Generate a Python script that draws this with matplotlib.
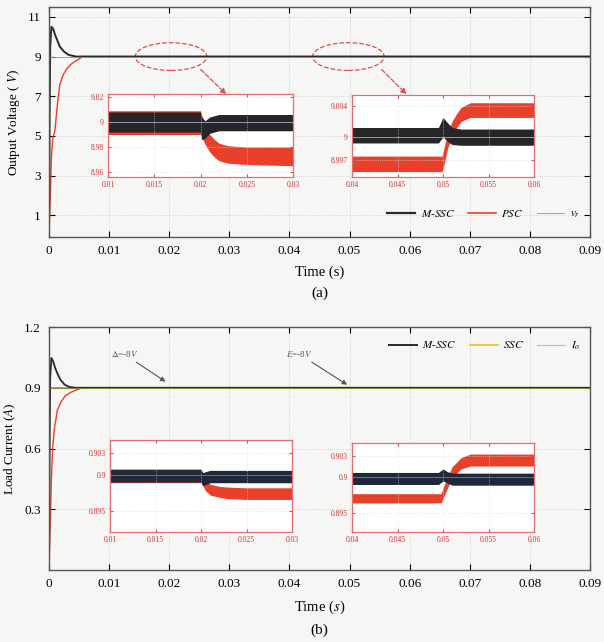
import numpy as np
import matplotlib
matplotlib.use("Agg")
import matplotlib.pyplot as plt
from matplotlib.patches import Ellipse

plt.rcParams['font.family'] = ['Liberation Serif', 'DejaVu Serif']
plt.rcParams['mathtext.fontset'] = 'stix'

W, H = 604, 642
BG = '#f6f7f5'
RED = '#e8402a'
BLK = '#2a2a2a'

# ---- main curves, output voltage (a)
t_v_black = [0, 0.0001, 0.0002, 0.0004, 0.0007, 0.001, 0.0014, 0.0018, 0.0025, 0.0033, 0.0045, 0.09]
v_black = [0, 6.0, 9.5, 10.5, 10.4, 10.1, 9.8, 9.5, 9.25, 9.08, 9.0, 9.0]
t_v_red = [0, 0.0002, 0.0004, 0.0006, 0.001, 0.0014, 0.0018, 0.0024, 0.003, 0.0038, 0.0046, 0.0056, 0.09]
v_red = [0, 1.8, 3.9, 4.8, 5.3, 6.6, 7.6, 8.1, 8.4, 8.65, 8.8, 9.0, 9.0]
t_vref = [0, 0.09]
v_ref = [9.0, 9.0]

# ---- main curves, load current (b)
t_i_black = [0, 0.0001, 0.0002, 0.0004, 0.0007, 0.001, 0.0014, 0.0019, 0.0026, 0.0035, 0.0045, 0.09]
i_black = [0, 0.6, 0.95, 1.047, 1.03, 1.0, 0.97, 0.94, 0.915, 0.903, 0.9, 0.9]
t_i_red = [0, 0.0002, 0.0004, 0.0006, 0.0009, 0.0014, 0.0020, 0.0027, 0.0036, 0.0046, 0.0056, 0.09]
i_red = [0, 0.22, 0.45, 0.6, 0.7, 0.79, 0.83, 0.86, 0.877, 0.89, 0.9, 0.9]
t_iref = [0, 0.09]
i_ref = [0.9, 0.9]

# ---- inset bands (upper / lower envelopes of ripple)
# voltage, 0.01-0.03
va_t_blk = [0.01, 0.02, 0.0201, 0.0205, 0.021, 0.022, 0.03]
va_blk_hi = [9.008, 9.008, 9.004, 9.001, 9.004, 9.006, 9.006]
va_blk_lo = [8.992, 8.992, 8.986, 8.987, 8.991, 8.993, 8.993]
va_t_red = [0.01, 0.02, 0.0205, 0.021, 0.0215, 0.022, 0.023, 0.025, 0.03]
va_red_hi = [9.009, 9.009, 8.997, 8.990, 8.986, 8.983, 8.981, 8.980, 8.980]
va_red_lo = [8.990, 8.990, 8.982, 8.976, 8.972, 8.969, 8.967, 8.966, 8.965]
# voltage, 0.04-0.06
vb_t_blk = [0.04, 0.0495, 0.05, 0.0505, 0.051, 0.052, 0.06]
vb_blk_hi = [9.0012, 9.0012, 9.0025, 9.0018, 9.0012, 9.0010, 9.0010]
vb_blk_lo = [8.9992, 8.9992, 9.0000, 8.9994, 8.9990, 8.9989, 8.9989]
vb_t_red = [0.04, 0.0499, 0.0502, 0.0505, 0.051, 0.0515, 0.052, 0.053, 0.06]
vb_red_hi = [8.9975, 8.9975, 8.9990, 9.0005, 9.0020, 9.0030, 9.0038, 9.0044, 9.0044]
vb_red_lo = [8.9955, 8.9955, 8.9968, 8.9985, 9.0000, 9.0012, 9.0020, 9.0025, 9.0025]
# current, 0.01-0.03
ia_t_blk = [0.01, 0.02, 0.0202, 0.021, 0.03]
ia_blk_hi = [0.9007, 0.9007, 0.9003, 0.9006, 0.9006]
ia_blk_lo = [0.8990, 0.8990, 0.8985, 0.8989, 0.8989]
ia_t_red = [0.01, 0.02, 0.0205, 0.021, 0.022, 0.023, 0.025, 0.03]
ia_red_hi = [0.9008, 0.9008, 0.8992, 0.8987, 0.8984, 0.8983, 0.8982, 0.8982]
ia_red_lo = [0.8989, 0.8989, 0.8978, 0.8972, 0.8969, 0.8967, 0.8966, 0.8966]
# current, 0.04-0.06
ib_t_blk = [0.04, 0.0495, 0.05, 0.0505, 0.051, 0.06]
ib_blk_hi = [0.9007, 0.9007, 0.9012, 0.9008, 0.9006, 0.9006]
ib_blk_lo = [0.8990, 0.8990, 0.8995, 0.8992, 0.8989, 0.8989]
ib_t_red = [0.04, 0.0498, 0.05, 0.0505, 0.051, 0.052, 0.053, 0.06]
ib_red_hi = [0.8977, 0.8977, 0.8985, 0.9000, 0.9015, 0.9028, 0.9033, 0.9033]
ib_red_lo = [0.8964, 0.8964, 0.8970, 0.8985, 0.9000, 0.9012, 0.9016, 0.9016]

main_xticks = [0, 0.01, 0.02, 0.03, 0.04, 0.05, 0.06, 0.07, 0.08, 0.09]
main_xlabels = ['0', '0.01', '0.02', '0.03', '0.04', '0.05', '0.06', '0.07', '0.08', '0.09']


def px_box(x0, y0, x1, y1):
    return [x0 / W, 1 - y1 / H, (x1 - x0) / W, (y1 - y0) / H]


def style_main(ax):
    ax.set_facecolor(BG)
    ax.set_xlim(0, 0.09)
    ax.set_xticks(main_xticks)
    ax.set_xticklabels(main_xlabels)
    ax.tick_params(direction='in', top=True, right=True, labelsize=9.5, length=4, pad=6)
    ax.grid(True, linestyle=':', color='#c8c8c8', linewidth=0.6)
    for s in ax.spines.values():
        s.set_color('#555555')
        s.set_linewidth(1.0)


def style_inset(ax, xt, xl, yt, yl, ylim):
    ax.set_facecolor('white')
    ax.set_xlim(xt[0], xt[-1])
    ax.set_ylim(*ylim)
    ax.set_xticks(xt)
    ax.set_xticklabels(xl)
    ax.set_yticks(yt)
    ax.set_yticklabels(yl)
    ax.tick_params(direction='in', top=True, right=True, labelsize=5.5,
                   colors='#d05050', labelcolor='#d03030', length=2.5, pad=3)
    ax.grid(True, linestyle=':', color='#dddddd', linewidth=0.5)
    for s in ax.spines.values():
        s.set_color('#e07070')
        s.set_linewidth(0.9)


fig = plt.figure(figsize=(W / 100, H / 100), dpi=100, facecolor=BG)

# ================= (a) output voltage
ax1 = fig.add_axes(px_box(49, 7, 590, 237))
style_main(ax1)
ax1.set_ylim(-0.1, 11.5)
ax1.set_yticks([1, 3, 5, 7, 9, 11])
ax1.plot(t_v_red, v_red, color=RED, lw=1.0)
ax1.plot(t_v_black, v_black, color=BLK, lw=1.4)
ax1.plot(t_vref, v_ref, color='#8e8fb8', lw=0.6)
ax1.set_ylabel('Output Voltage ( $\\mathit{V}$)', fontsize=9.5, labelpad=4)
ax1.set_xlabel('Time (s)', fontsize=10.5, labelpad=6)
ax1.text(0.5, -0.245, '(a)', transform=ax1.transAxes, ha='center', va='center', fontsize=11)

for cx in [0.0203, 0.0498]:
    ax1.add_patch(Ellipse((cx, 9.0), 0.0119, 1.4, fill=False, ec='#d85050', ls='--', lw=0.9))
ax1.annotate('', xy=(0.0298, 7.0), xytext=(0.0249, 8.45),
             arrowprops=dict(arrowstyle='-|>', color='#d85050', ls='--', lw=0.9, mutation_scale=8))
ax1.annotate('', xy=(0.0598, 7.0), xytext=(0.0550, 8.45),
             arrowprops=dict(arrowstyle='-|>', color='#d85050', ls='--', lw=0.9, mutation_scale=8))

l1, = ax1.plot([], [], color=BLK, lw=1.6)
l2, = ax1.plot([], [], color=RED, lw=1.2)
l3, = ax1.plot([], [], color='#9090b0', lw=0.6)
ax1.legend([l1, l2, l3], ['$\\mathit{M}$-$\\mathit{SSC}$', '$\\mathit{PSC}$', '$\\mathit{v}_r$'],
           ncol=3, loc='lower right', bbox_to_anchor=(1.0, 0.03), frameon=False,
           fontsize=8, handlelength=2.5, columnspacing=1.2, handletextpad=0.5)

# inset a1
ia1 = fig.add_axes(px_box(108, 94, 293, 177))
style_inset(ia1, [0.01, 0.015, 0.02, 0.025, 0.03], ['0.01', '0.015', '0.02', '0.025', '0.03'],
            [8.96, 8.98, 9.0, 9.02], ['8.96', '8.98', '9', '9.02'], (8.956, 9.0224))
ia1.fill_between(va_t_red, va_red_lo, va_red_hi, color=RED, lw=0)
ia1.fill_between(va_t_blk, va_blk_lo, va_blk_hi, color='#262626', lw=0)
ia1.plot(t_vref, v_ref, color='#9aa0c8', lw=0.6)

# inset a2
ia2 = fig.add_axes(px_box(352, 95, 534, 177))
style_inset(ia2, [0.04, 0.045, 0.05, 0.055, 0.06], ['0.04', '0.045', '0.05', '0.055', '0.06'],
            [8.997, 9.0, 9.004], ['8.997', '9', '9.004'], (8.9948, 9.0054))
ia2.fill_between(vb_t_red, vb_red_lo, vb_red_hi, color=RED, lw=0)
ia2.fill_between(vb_t_blk, vb_blk_lo, vb_blk_hi, color='#262626', lw=0)
ia2.plot(t_vref, v_ref, color='#9aa0c8', lw=0.6)

# ================= (b) load current
ax2 = fig.add_axes(px_box(49, 327, 590, 570))
style_main(ax2)
ax2.set_ylim(0, 1.2)
ax2.set_yticks([0.3, 0.6, 0.9, 1.2])
ax2.set_yticklabels(['0.3', '0.6', '0.9', '1.2'])
ax2.plot(t_i_red, i_red, color=RED, lw=1.0)
ax2.plot(t_iref, i_ref, color='#5a8ad0', lw=1.2)
ax2.plot(t_i_black, i_black, color=BLK, lw=1.3)
ax2.plot(t_iref, i_ref, color='#8a8a30', lw=0.7)
ax2.set_ylabel('Load Current ($\\mathit{A}$)', fontsize=9.5, labelpad=4)
ax2.set_xlabel('Time ($\\mathit{s}$)', fontsize=10.5, labelpad=6)
ax2.text(0.5, -0.25, '(b)', transform=ax2.transAxes, ha='center', va='center', fontsize=11)

ax2.annotate('$\\Delta$=-8$\\mathit{V}$', xy=(0.0194, 0.93), xytext=(0.0103, 1.05),
             fontsize=6.5, color='#555555',
             arrowprops=dict(arrowstyle='-|>', color='#555555', lw=0.8, mutation_scale=7,
                             shrinkA=0, shrinkB=0))
ax2.annotate('$\\mathit{E}$=-8$\\mathit{V}$', xy=(0.0496, 0.915), xytext=(0.0395, 1.05),
             fontsize=6.5, color='#555555',
             arrowprops=dict(arrowstyle='-|>', color='#555555', lw=0.8, mutation_scale=7,
                             shrinkA=0, shrinkB=0))

m1, = ax2.plot([], [], color=BLK, lw=1.4)
m2, = ax2.plot([], [], color='#e8c020', lw=1.2)
m3, = ax2.plot([], [], color='#a8c0e0', lw=0.8)
ax2.legend([m1, m2, m3], ['$\\mathit{M}$-$\\mathit{SSC}$', '$\\mathit{SSC}$', '$\\mathit{I}_o$'],
           ncol=3, loc='upper right', bbox_to_anchor=(1.0, 0.99), frameon=False,
           fontsize=8, handlelength=2.5, columnspacing=1.2, handletextpad=0.5)

# inset b1
ib1 = fig.add_axes(px_box(110, 440, 292, 532))
style_inset(ib1, [0.01, 0.015, 0.02, 0.025, 0.03], ['0.01', '0.015', '0.02', '0.025', '0.03'],
            [0.895, 0.9, 0.903], ['0.895', '0.9', '0.903'], (0.89212, 0.90478))
ib1.fill_between(ia_t_red, ia_red_lo, ia_red_hi, color=RED, lw=0)
ib1.fill_between(ia_t_blk, ia_blk_lo, ia_blk_hi, color='#1e2838', lw=0)
ib1.plot(t_iref, i_ref, color='#4a70b0', lw=0.8)

# inset b2
ib2 = fig.add_axes(px_box(352, 443, 534, 532))
style_inset(ib2, [0.04, 0.045, 0.05, 0.055, 0.06], ['0.04', '0.045', '0.05', '0.055', '0.06'],
            [0.895, 0.9, 0.903], ['0.895', '0.9', '0.903'], (0.89229, 0.90486))
ib2.fill_between(ib_t_red, ib_red_lo, ib_red_hi, color=RED, lw=0)
ib2.fill_between(ib_t_blk, ib_blk_lo, ib_blk_hi, color='#1e2838', lw=0)
ib2.plot(t_iref, i_ref, color='#4a70b0', lw=0.8)

fig.savefig('out.png', dpi=100, facecolor=BG)
